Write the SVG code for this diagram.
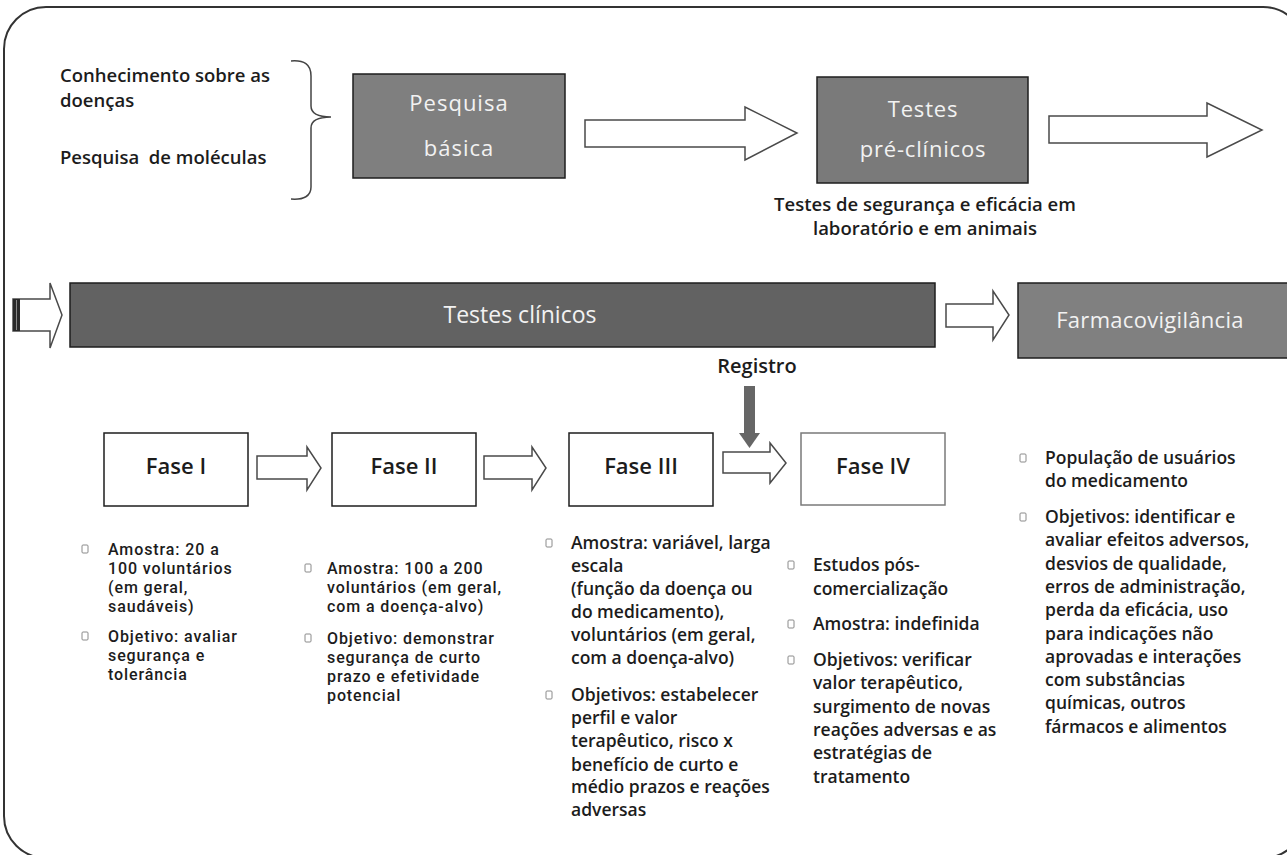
<svg xmlns="http://www.w3.org/2000/svg" width="1287" height="855" viewBox="0 0 1287 855">
<style>
.frame{fill:none;stroke:#333;stroke-width:2}
.gbox{stroke:#1e1e1e;stroke-width:1.5}
.fbox{fill:#fff;stroke:#1e1e1e;stroke-width:1.5}
.arrow{fill:#fff;stroke:#4a4a4a;stroke-width:1.5;stroke-linejoin:miter}
.t{font-family:"Open Sans","DejaVu Sans",sans-serif;font-weight:600;fill:#1c1c1c}
.b{font-size:17.5px}
.s{font-family:Roboto,"Liberation Sans",sans-serif;font-size:16px;font-weight:500;letter-spacing:0.9px}
.top{font-size:18.5px}
.w{fill:#f2f2f2;font-weight:400;text-anchor:middle}
.fase{font-size:22px;text-anchor:middle;font-weight:600}
.bul{fill:none;stroke:#8a8a8a;stroke-width:1}
</style>
<rect class="frame" x="4" y="7" width="1301" height="851" rx="42"/>

<g id="intro">
<text class="t top" x="60" y="82">Conhecimento sobre as<tspan x="60" dy="25">doenças</tspan></text>
<text class="t top" x="60" y="164" xml:space="preserve">Pesquisa  de moléculas</text>
<path d="M291,61 C304,60 311,64 311,76 L311,106 C311,113 318,117 331,117 C318,117 311,121 311,128 L311,187 C311,196 304,200 291,199" fill="none" stroke="#444" stroke-width="1.5"/>
</g>

<g id="pesquisa">
<rect class="gbox" x="353" y="74" width="212" height="104" fill="#7f7f7f"/>
<text class="t w" x="459" y="111" font-size="22" letter-spacing="1">Pesquisa<tspan x="459" dy="45">básica</tspan></text>
</g>

<g id="preclinicos">
<rect class="gbox" x="817" y="77" width="211" height="106" fill="#7a7a7a"/>
<text class="t w" x="923" y="117" font-size="22" letter-spacing="0.8">Testes<tspan x="923" dy="40">pré-clínicos</tspan></text>
<text class="t" x="925" y="211" font-size="18.5" text-anchor="middle">Testes de segurança e eficácia em<tspan x="925" dy="24">laboratório e em animais</tspan></text>
</g>

<g id="clinicos">
<rect class="gbox" x="70" y="283" width="865" height="64" fill="#626262"/>
<text class="t w" x="520" y="323" font-size="23">Testes clínicos</text>
</g>

<g id="farmaco">
<rect class="gbox" x="1018" y="283" width="290" height="75" fill="#808080"/>
<text class="t w" x="1150" y="328" font-size="22" letter-spacing="0.3">Farmacovigilância</text>
</g>

<g id="registro">
<text class="t" x="757" y="373" font-size="20" font-weight="700" text-anchor="middle">Registro</text>
</g>

<g id="fase1">
<rect class="fbox" x="104" y="433" width="144" height="73"/>
<text class="t fase" x="176" y="474">Fase I</text>
</g>
<g id="fase2">
<rect class="fbox" x="332" y="433" width="144" height="73"/>
<text class="t fase" x="404" y="474">Fase II</text>
</g>
<g id="fase3">
<rect class="fbox" x="569" y="433" width="144" height="73"/>
<text class="t fase" x="641" y="474">Fase III</text>
</g>
<g id="fase4">
<rect x="801" y="433" width="144" height="72" fill="#fff" stroke="#7a7a7a" stroke-width="1.5"/>
<text class="t fase" x="873" y="474">Fase IV</text>
</g>

<g id="connectors">
<polygon class="arrow" points="585,120 745,120 745,107 797,133 745,160 745,147 585,147"/>
<polygon class="arrow" points="1049,116 1207,116 1207,103 1262,130 1207,157 1207,143 1049,143"/>
<polygon class="arrow" points="13,299 50,299 50,283 62,315 50,348 50,331 13,331"/>
<rect x="13" y="299" width="7" height="32" fill="#2a2a2a"/>
<line x1="16.5" y1="300" x2="16.5" y2="330" stroke="#888" stroke-width="1"/>
<polygon class="arrow" points="946,304 993,304 993,291 1009,315 993,340 993,327 946,327"/>
<polygon class="arrow" points="257,456 307,456 307,447 321,468 307,490 307,479 257,479"/>
<polygon class="arrow" points="484,456 532,456 532,447 546,468 532,490 532,479 484,479"/>
<polygon class="arrow" points="723,452 770,452 770,443 786,463 770,483 770,473 723,473"/>
<rect x="744" y="386" width="11" height="48" fill="#666"/>
<polygon points="739,433 760,433 749.5,448" fill="#666"/>
</g>

<g id="texto-fase1">
<rect class="bul" x="82" y="545" width="6" height="8" rx="1"/>
<text class="t s" x="108" y="555">Amostra: 20 a<tspan x="108" dy="19">100 voluntários</tspan><tspan x="108" dy="19">(em geral,</tspan><tspan x="108" dy="19">saudáveis)</tspan></text>
<rect class="bul" x="82" y="632" width="6" height="8" rx="1"/>
<text class="t s" x="108" y="642">Objetivo: avaliar<tspan x="108" dy="19">segurança e</tspan><tspan x="108" dy="19">tolerância</tspan></text>
</g>

<g id="texto-fase2">
<rect class="bul" x="305" y="564" width="6" height="8" rx="1"/>
<text class="t s" x="327" y="574">Amostra: 100 a 200<tspan x="327" dy="19">voluntários (em geral,</tspan><tspan x="327" dy="19">com a doença-alvo)</tspan></text>
<rect class="bul" x="305" y="634" width="6" height="8" rx="1"/>
<text class="t s" x="327" y="644">Objetivo: demonstrar<tspan x="327" dy="19">segurança de curto</tspan><tspan x="327" dy="19">prazo e efetividade</tspan><tspan x="327" dy="19">potencial</tspan></text>
</g>

<g id="texto-fase3">
<rect class="bul" x="546" y="539" width="6" height="8" rx="1"/>
<text class="t b" x="571" y="549">Amostra: variável, larga<tspan x="571" dy="23">escala</tspan><tspan x="571" dy="23">(função da doença ou</tspan><tspan x="571" dy="23">do medicamento),</tspan><tspan x="571" dy="23">voluntários (em geral,</tspan><tspan x="571" dy="23">com a doença-alvo)</tspan></text>
<rect class="bul" x="546" y="691" width="6" height="8" rx="1"/>
<text class="t b" x="571" y="701">Objetivos: estabelecer<tspan x="571" dy="23">perfil e valor</tspan><tspan x="571" dy="23">terapêutico, risco x</tspan><tspan x="571" dy="23.5">benefício de curto e</tspan><tspan x="571" dy="22.5">médio prazos e reações</tspan><tspan x="571" dy="23">adversas</tspan></text>
</g>

<g id="texto-fase4">
<rect class="bul" x="788" y="561" width="6" height="8" rx="1"/>
<text class="t b" x="813" y="571">Estudos pós-<tspan x="813" dy="24">comercialização</tspan></text>
<rect class="bul" x="788" y="620" width="6" height="8" rx="1"/>
<text class="t b" x="813" y="630">Amostra: indefinida</text>
<rect class="bul" x="788" y="656" width="6" height="8" rx="1"/>
<text class="t b" x="813" y="666">Objetivos: verificar<tspan x="813" dy="23.3">valor terapêutico,</tspan><tspan x="813" dy="23.3">surgimento de novas</tspan><tspan x="813" dy="23.3">reações adversas e as</tspan><tspan x="813" dy="23.3">estratégias de</tspan><tspan x="813" dy="23.3">tratamento</tspan></text>
</g>

<g id="texto-farmaco">
<rect class="bul" x="1020" y="454" width="6" height="8" rx="1"/>
<text class="t b" x="1045" y="464">População de usuários<tspan x="1045" dy="23">do medicamento</tspan></text>
<rect class="bul" x="1020" y="513" width="6" height="8" rx="1"/>
<text class="t b" x="1045" y="523">Objetivos: identificar e<tspan x="1045" dy="23.3">avaliar efeitos adversos,</tspan><tspan x="1045" dy="23.3">desvios de qualidade,</tspan><tspan x="1045" dy="23.3">erros de administração,</tspan><tspan x="1045" dy="23.3">perda da eficácia, uso</tspan><tspan x="1045" dy="23.3">para indicações não</tspan><tspan x="1045" dy="23.3">aprovadas e interações</tspan><tspan x="1045" dy="23.3">com substâncias</tspan><tspan x="1045" dy="23.3">químicas, outros</tspan><tspan x="1045" dy="23.3">fármacos e alimentos</tspan></text>
</g>
</svg>
